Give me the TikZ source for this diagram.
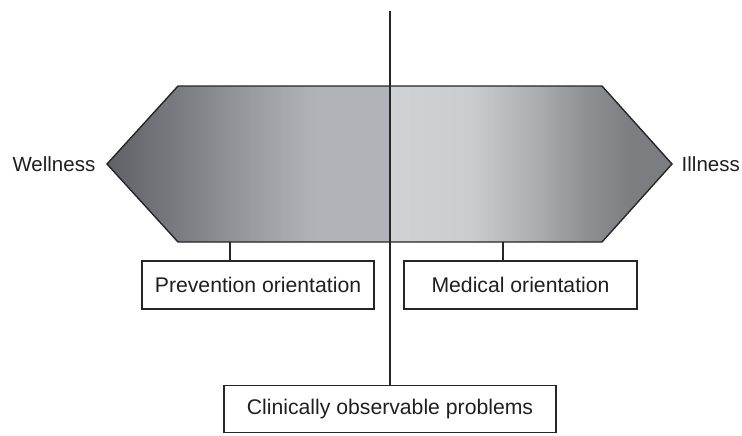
\documentclass[tikz,border=0pt]{standalone}
\usepackage{fontspec}
\setmainfont{Liberation Sans}
\usepackage{tikz}
\usetikzlibrary{positioning}

\definecolor{wA}{RGB}{96,97,102}
\definecolor{wB}{RGB}{128,129,134}
\definecolor{wC}{RGB}{158,159,164}
\definecolor{wD}{RGB}{178,179,184}
\definecolor{iA}{RGB}{209,210,213}
\definecolor{iB}{RGB}{203,204,207}
\definecolor{iC}{RGB}{175,176,180}
\definecolor{iD}{RGB}{142,143,147}
\definecolor{iE}{RGB}{124,125,129}

% shadings for the two halves of the continuum (path fills the 25bp--75bp band)
\pgfdeclarehorizontalshading{wellshade}{100bp}{
  color(0bp)=(wA); color(25bp)=(wA); color(40bp)=(wB);
  color(52bp)=(wC); color(62bp)=(wD); color(100bp)=(wD)}
\pgfdeclarehorizontalshading{illshade}{100bp}{
  color(0bp)=(iA); color(25bp)=(iA); color(39bp)=(iB);
  color(50bp)=(iC); color(60bp)=(iD); color(68bp)=(iE); color(100bp)=(iE)}

\begin{document}
\begin{tikzpicture}[x=0.5pt, y=-0.5pt, line width=0.7pt,
    font=\fontsize{10.6}{12.5}\selectfont]
  \tikzset{
    half/.style={draw=black!85, line join=miter},
    lbl/.style={draw=black!85, minimum height=24pt, inner sep=0pt, text=black!88},
    side/.style={inner sep=0pt, text=black!88, font=\fontsize{10.25}{12}\selectfont},
    link/.style={draw=black!85}
  }
  \useasboundingbox (0,0) rectangle (742,435);

  % the two halves
  \path[half, shading=wellshade] (107,164) -- (178,86) -- (390,86) -- (390,242) -- (178,242) -- cycle;
  \path[half, shading=illshade] (390,86) -- (602,86) -- (672,164) -- (602,242) -- (390,242) -- cycle;

  \node[side, anchor=east] (well) at (96,164) {Wellness};
  \node[side, anchor=west] (ill) at (681,164) {Illness};

  % boxes
  \node[lbl, minimum width=116pt] (prev) at (258,285) {Prevention orientation};
  \node[lbl, minimum width=116.5pt] (med) at (520.5,285) {Medical orientation};
  \node[lbl, minimum width=166pt, minimum height=23.5pt] (clin) at (390,409) {Clinically observable problems};

  \coordinate (top) at (390,11);
  \coordinate (pa) at (230,242);
  \coordinate (ma) at (503,242);

  \draw[link] (top) -- (clin.north);
  \draw[link] (pa) -- (pa |- prev.north);
  \draw[link] (ma) -- (ma |- med.north);
\end{tikzpicture}
\end{document}
